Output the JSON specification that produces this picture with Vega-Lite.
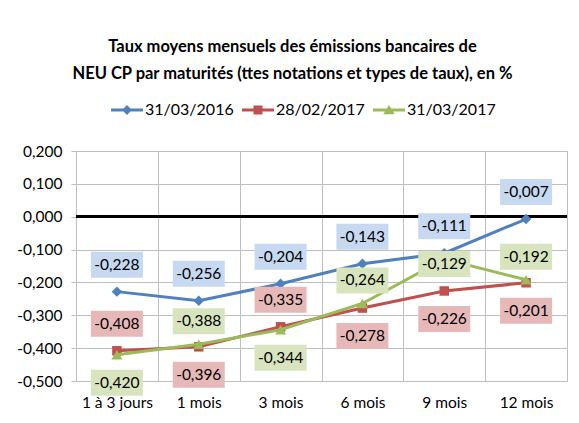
{
  "$schema": "https://vega.github.io/schema/vega-lite/v6.json",
  "width": 491,
  "height": 230,
  "autosize": "none",
  "padding": {"left": 76, "top": 151, "right": 12, "bottom": 42},
  "background": "white",
  "config": {
    "locale": {"number": {"decimal": ",", "thousands": " ", "grouping": [3], "currency": ["", " €"], "minus": "-"}},
    "font": "Lato, sans-serif",
    "view": {"stroke": "#bfbfbf", "strokeWidth": 1}
  },
  "title": {
    "text": ["Taux moyens mensuels des émissions bancaires de", "NEU CP par maturités (ttes notations et types de taux), en %"],
    "fontSize": 16.5,
    "fontWeight": "bold",
    "color": "#000000",
    "anchor": "middle",
    "frame": "bounds",
    "offset": 12,
    "lineHeight": 27
  },
  "data": {
    "values": [
      {"maturity": "1 à 3 jours", "series": "31/03/2016", "value": -0.228},
      {"maturity": "1 mois", "series": "31/03/2016", "value": -0.256},
      {"maturity": "3 mois", "series": "31/03/2016", "value": -0.204},
      {"maturity": "6 mois", "series": "31/03/2016", "value": -0.143},
      {"maturity": "9 mois", "series": "31/03/2016", "value": -0.111},
      {"maturity": "12 mois", "series": "31/03/2016", "value": -0.007},
      {"maturity": "1 à 3 jours", "series": "28/02/2017", "value": -0.408},
      {"maturity": "1 mois", "series": "28/02/2017", "value": -0.396},
      {"maturity": "3 mois", "series": "28/02/2017", "value": -0.335},
      {"maturity": "6 mois", "series": "28/02/2017", "value": -0.278},
      {"maturity": "9 mois", "series": "28/02/2017", "value": -0.226},
      {"maturity": "12 mois", "series": "28/02/2017", "value": -0.201},
      {"maturity": "1 à 3 jours", "series": "31/03/2017", "value": -0.420},
      {"maturity": "1 mois", "series": "31/03/2017", "value": -0.388},
      {"maturity": "3 mois", "series": "31/03/2017", "value": -0.344},
      {"maturity": "6 mois", "series": "31/03/2017", "value": -0.264},
      {"maturity": "9 mois", "series": "31/03/2017", "value": -0.129},
      {"maturity": "12 mois", "series": "31/03/2017", "value": -0.192}
    ]
  },
  "encoding": {
    "x": {
      "field": "maturity",
      "type": "nominal",
      "sort": ["1 à 3 jours", "1 mois", "3 mois", "6 mois", "9 mois", "12 mois"],
      "scale": {"type": "band", "paddingInner": 0, "paddingOuter": 0},
      "axis": {"title": null, "labelAngle": 0, "domain": false, "ticks": false, "grid": true, "tickBand": "extent", "gridColor": "#bfbfbf", "gridWidth": 1, "labelPadding": 14, "labelFontSize": 15.5, "labelColor": "#000000"}
    },
    "y": {
      "field": "value",
      "type": "quantitative",
      "scale": {"domain": [-0.5, 0.2], "nice": false, "zero": false},
      "axis": {"title": null, "values": [-0.5, -0.4, -0.3, -0.2, -0.1, 0, 0.1, 0.2], "format": ".3f", "grid": true, "gridColor": "#bfbfbf", "domainColor": "#bfbfbf", "tickColor": "#bfbfbf", "tickSize": 5, "labelPadding": 9, "labelFontSize": 15.5, "labelColor": "#000000"}
    }
  },
  "layer": [
    {
      "mark": {"type": "rule", "color": "#000000", "strokeWidth": 2.5},
      "encoding": {"x": null, "y": {"datum": 0, "type": "quantitative"}}
    },
    {
      "transform": [{"filter": "datum.series == '31/03/2016'"}],
      "layer": [
        {"mark": {"type": "line", "strokeWidth": 3, "color": "#4f81bd"}, "encoding": {"order": {"value": null}}},
        {"mark": {"type": "point", "shape": "diamond", "filled": true, "opacity": 1, "size": 110, "color": "#4f81bd"}}
      ]
    },
    {
      "transform": [{"filter": "datum.series == '28/02/2017'"}],
      "layer": [
        {"mark": {"type": "line", "strokeWidth": 3, "color": "#c0504d"}, "encoding": {"order": {"value": null}}},
        {"mark": {"type": "point", "shape": "square", "filled": true, "opacity": 1, "size": 90, "color": "#c0504d"}}
      ]
    },
    {
      "transform": [{"filter": "datum.series == '31/03/2017'"}],
      "layer": [
        {"mark": {"type": "line", "strokeWidth": 3, "color": "#9bbb59"}, "encoding": {"order": {"value": null}}},
        {"mark": {"type": "point", "shape": "triangle-up", "filled": true, "opacity": 1, "size": 120, "color": "#9bbb59"}}
      ]
    },
    {
      "transform": [{"filter": "false"}],
      "mark": {"type": "point", "filled": true, "size": 1024},
      "encoding": {
        "color": {"field": "series", "type": "nominal", "scale": {"domain": ["31/03/2016", "28/02/2017", "31/03/2017"], "range": ["#4f81bd", "#c0504d", "#9bbb59"]},
          "legend": {"orient": "none", "legendX": 35, "legendY": -57, "direction": "horizontal", "title": null, "labelFontSize": 16, "labelColor": "#000000", "columnPadding": 8, "labelOffset": 2, "symbolSize": 1024, "symbolStrokeWidth": 0, "symbolOpacity": 1}},
        "shape": {"field": "series", "type": "nominal", "scale": {"domain": ["31/03/2016", "28/02/2017", "31/03/2017"], "range": [
          "M-1,-0.094H1V0.094H-1Z M0,-0.31L0.31,0L0,0.31L-0.31,0Z",
          "M-1,-0.094H1V0.094H-1Z M-0.28,-0.28H0.28V0.28H-0.28Z",
          "M-1,-0.094H1V0.094H-1Z M0,-0.32L0.36,0.26H-0.36Z"
        ]},
          "legend": {"orient": "none", "legendX": 35, "legendY": -57, "direction": "horizontal", "title": null, "labelFontSize": 16, "labelColor": "#000000", "columnPadding": 8, "labelOffset": 2, "symbolSize": 1024, "symbolStrokeWidth": 0, "symbolOpacity": 1}}
      }
    },
    {
      "transform": [{"filter": "datum.series == '31/03/2016' || (datum.series == '28/02/2017' && (datum.maturity == '1 à 3 jours' || datum.maturity == '3 mois'))"}],
      "layer": [
        {"mark": {"type": "point", "shape": "M-1,-0.5H1V0.5H-1Z", "size": 2704, "filled": true, "opacity": 1, "strokeWidth": 0, "yOffset": -27},
         "encoding": {"fill": {"field": "series", "type": "nominal", "scale": {"domain": ["31/03/2016", "28/02/2017", "31/03/2017"], "range": ["#c6d9f1", "#e6b9b8", "#d7e4bd"]}, "legend": null}}},
        {"mark": {"type": "text", "fontSize": 15.5, "color": "#000000", "baseline": "middle", "yOffset": -27},
         "encoding": {"text": {"field": "value", "type": "quantitative", "format": ".3f"}}}
      ]
    },
    {
      "transform": [{"filter": "(datum.series == '28/02/2017' && datum.maturity != '1 à 3 jours' && datum.maturity != '3 mois') || (datum.series == '31/03/2017' && (datum.maturity == '1 à 3 jours' || datum.maturity == '3 mois'))"}],
      "layer": [
        {"mark": {"type": "point", "shape": "M-1,-0.5H1V0.5H-1Z", "size": 2704, "filled": true, "opacity": 1, "strokeWidth": 0, "yOffset": 28},
         "encoding": {"fill": {"field": "series", "type": "nominal", "scale": {"domain": ["31/03/2016", "28/02/2017", "31/03/2017"], "range": ["#c6d9f1", "#e6b9b8", "#d7e4bd"]}, "legend": null}}},
        {"mark": {"type": "text", "fontSize": 15.5, "color": "#000000", "baseline": "middle", "yOffset": 28},
         "encoding": {"text": {"field": "value", "type": "quantitative", "format": ".3f"}}}
      ]
    },
    {
      "transform": [{"filter": "datum.series == '31/03/2017' && (datum.maturity == '1 mois' || datum.maturity == '6 mois' || datum.maturity == '12 mois')"}],
      "layer": [
        {"mark": {"type": "point", "shape": "M-1,-0.5H1V0.5H-1Z", "size": 2704, "filled": true, "opacity": 1, "strokeWidth": 0, "yOffset": -23},
         "encoding": {"fill": {"field": "series", "type": "nominal", "scale": {"domain": ["31/03/2016", "28/02/2017", "31/03/2017"], "range": ["#c6d9f1", "#e6b9b8", "#d7e4bd"]}, "legend": null}}},
        {"mark": {"type": "text", "fontSize": 15.5, "color": "#000000", "baseline": "middle", "yOffset": -23},
         "encoding": {"text": {"field": "value", "type": "quantitative", "format": ".3f"}}}
      ]
    },
    {
      "transform": [{"filter": "datum.series == '31/03/2017' && datum.maturity == '9 mois'"}],
      "layer": [
        {"mark": {"type": "point", "shape": "M-1,-0.5H1V0.5H-1Z", "size": 2704, "filled": true, "opacity": 1, "strokeWidth": 0, "yOffset": 5},
         "encoding": {"fill": {"field": "series", "type": "nominal", "scale": {"domain": ["31/03/2016", "28/02/2017", "31/03/2017"], "range": ["#c6d9f1", "#e6b9b8", "#d7e4bd"]}, "legend": null}}},
        {"mark": {"type": "text", "fontSize": 15.5, "color": "#000000", "baseline": "middle", "yOffset": 5},
         "encoding": {"text": {"field": "value", "type": "quantitative", "format": ".3f"}}}
      ]
    }
  ]
}
